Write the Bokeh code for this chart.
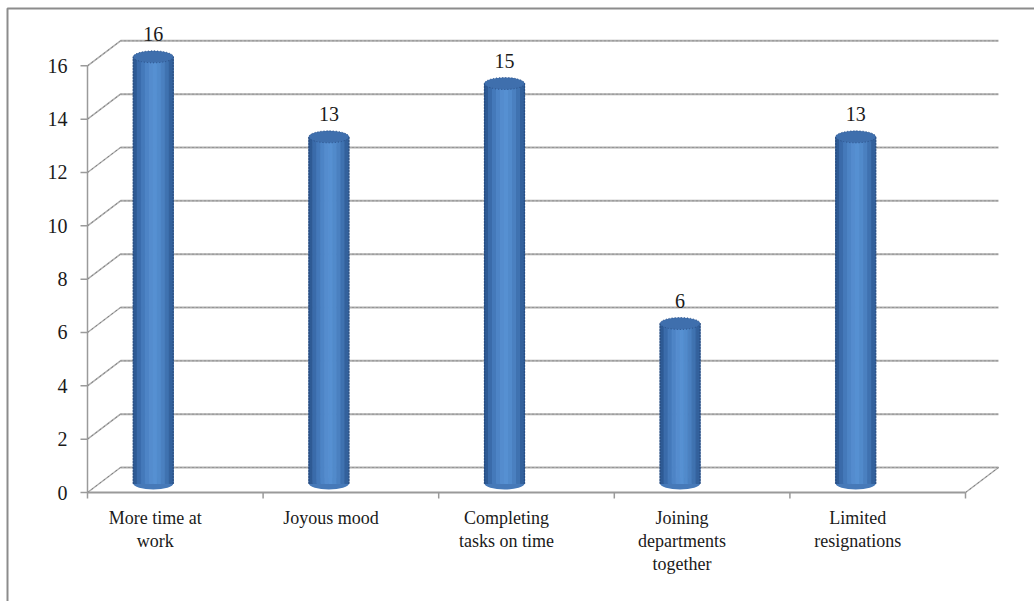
from bokeh.plotting import figure
from bokeh.models import Range1d
from bokeh.core.properties import value
from bokeh.embed import file_html
from bokeh.resources import INLINE

# ---- data ----
categories = ["More time at\nwork", "Joyous mood", "Completing\ntasks on time",
              "Joining\ndepartments\ntogether", "Limited\nresignations"]
values = [16, 13, 15, 6, 13]
y_ticks = [0, 2, 4, 6, 8, 10, 12, 14, 16]

# ---- geometry (pixel -> data conversion) ----
W, H = 1034, 601
PX_X = 175.6      # px per category
PX_Y = 26.667     # px per value unit
X0PX, Y0PX = 87, 492
DX = 33 / PX_X    # 3D depth offset
DY = 25 / PX_Y
N = len(categories)

p = figure(width=W, height=H, output_backend="svg", toolbar_location=None,
           x_range=Range1d(-X0PX / PX_X, (W - X0PX) / PX_X),
           y_range=Range1d((Y0PX - H) / PX_Y, Y0PX / PX_Y),
           x_axis_location=None, y_axis_location=None,
           min_border=0, min_border_left=0, min_border_right=0,
           min_border_top=0, min_border_bottom=0)
p.grid.visible = False
p.outline_line_color = None
p.background_fill_color = "white"

FONT = value("'Liberation Serif', 'DejaVu Serif', serif")
GRID = "#ADADAD"
GRID_DOT = "#7F7F7F"

# outer border (top and left)
xl = (7 - X0PX) / PX_X
yt = (Y0PX - 8) / PX_Y
p.line([xl, xl, (W - X0PX) / PX_X + 1], [(Y0PX - H) / PX_Y - 1, yt, yt],
       line_color="#8C8C8C", line_width=2)

# back wall gridlines and left wall diagonals
p.segment(x0=[DX] * len(y_ticks), y0=[t + DY for t in y_ticks],
          x1=[N + DX] * len(y_ticks), y1=[t + DY for t in y_ticks],
          line_color=GRID, line_width=2)
p.segment(x0=[DX] * len(y_ticks), y0=[t + DY for t in y_ticks],
          x1=[N + DX] * len(y_ticks), y1=[t + DY for t in y_ticks],
          line_color=GRID_DOT, line_width=1, line_dash="1 3")
p.segment(x0=[0] * len(y_ticks), y0=y_ticks,
          x1=[DX] * len(y_ticks), y1=[t + DY for t in y_ticks],
          line_color=GRID, line_width=1.5)
p.segment(x0=[0] * len(y_ticks), y0=y_ticks,
          x1=[DX] * len(y_ticks), y1=[t + DY for t in y_ticks],
          line_color=GRID_DOT, line_width=1, line_dash="2 3")

# vertical axis, y ticks
p.segment(x0=[0], y0=[0], x1=[0], y1=[max(y_ticks)], line_color="#9A9A9A", line_width=1.5)
p.segment(x0=[-7 / PX_X] * len(y_ticks), y0=y_ticks, x1=[0] * len(y_ticks), y1=y_ticks,
          line_color="#9A9A9A", line_width=1.5)

# floor: front axis, right diagonal, category ticks
p.segment(x0=[0], y0=[0], x1=[N], y1=[0], line_color="#9A9A9A", line_width=2)
p.segment(x0=[N], y0=[0], x1=[N + DX], y1=[DY], line_color=GRID, line_width=1.5)
p.segment(x0=[N], y0=[0], x1=[N + DX], y1=[DY], line_color=GRID_DOT, line_width=1, line_dash="2 3")
p.segment(x0=list(range(N + 1)), y0=[0] * (N + 1), x1=list(range(N + 1)),
          y1=[-6 / PX_Y] * (N + 1), line_color="#9A9A9A", line_width=1.5)

# ---- cylinders ----
BW = 40 / PX_X
BASE = (Y0PX - 483) / PX_Y
EH = 12 / PX_Y
cx = [i + 0.5 - 22 / PX_X for i in range(N)]
strip_colors = ["#2E5A94", "#3A6BAA", "#4479BA", "#4D84C6", "#548CCE",
                "#5690D2", "#518ACB", "#4A80C0", "#3F72B0", "#33619C"]
NS = len(strip_colors)

# bottom caps
p.ellipse(x=cx, y=[BASE] * N, width=BW, height=EH, fill_color="#4679B8", line_color=None)
for k, col in enumerate(strip_colors):
    left = [c - BW / 2 + k * BW / NS for c in cx]
    right = [l + BW / NS for l in left]
    p.quad(left=left, right=right, bottom=[BASE] * N, top=[BASE + v for v in values],
           fill_color=col, line_color=col, line_width=1)
# dotted dark edges
p.segment(x0=[c - BW / 2 for c in cx], y0=[BASE] * N, x1=[c - BW / 2 for c in cx],
          y1=[BASE + v for v in values], line_color="#1F3F70", line_width=1.5, line_dash="1 2")
p.segment(x0=[c + BW / 2 for c in cx], y0=[BASE] * N, x1=[c + BW / 2 for c in cx],
          y1=[BASE + v for v in values], line_color="#1F3F70", line_width=1.5, line_dash="1 2")
# top caps
p.ellipse(x=cx, y=[BASE + v for v in values], width=BW, height=EH,
          fill_color="#3F6FAD", line_color="#2A5088", line_width=1, line_dash="1 2")

# ---- texts ----
txt = dict(text_font=FONT, text_color="#1A1A1A")
p.text(x=cx, y=[BASE + v + 0.85 for v in values], text=[str(v) for v in values],
       text_align="center", text_baseline="middle", text_font_size="20px", **txt)
p.text(x=[-20 / PX_X] * len(y_ticks), y=y_ticks, text=[str(t) for t in y_ticks],
       text_align="right", text_baseline="middle", text_font_size="20px", **txt)
p.text(x=[i + 0.5 - 20 / PX_X for i in range(N)], y=[(Y0PX - 507) / PX_Y] * N,
       text=categories, text_align="center", text_baseline="top",
       text_line_height=1.15, text_font_size="18px", **txt)

open("out.html", "w").write(file_html(p, INLINE))
